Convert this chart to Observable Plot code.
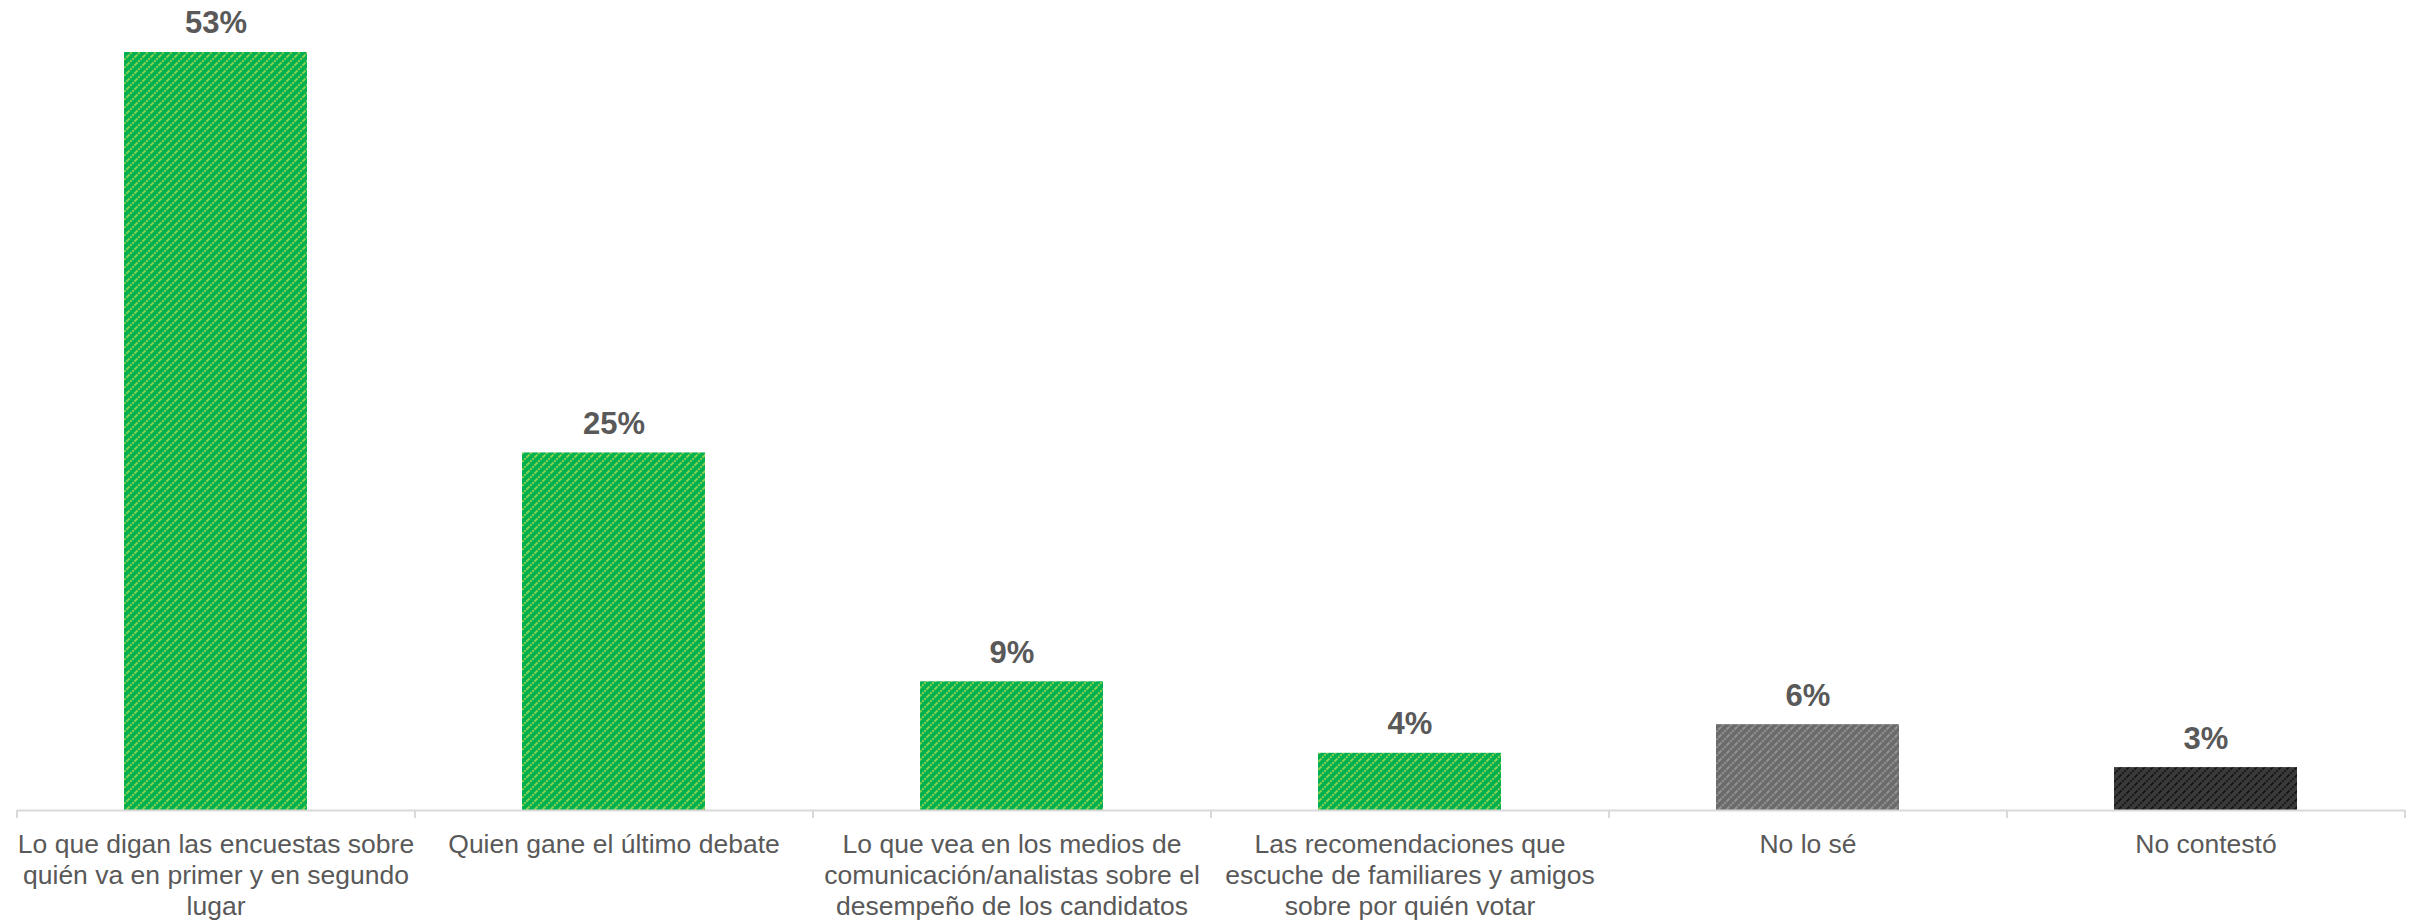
<!DOCTYPE html>
<html>
<head>
<meta charset="utf-8">
<script src="https://cdn.jsdelivr.net/npm/d3@7"></script>
<script src="https://cdn.jsdelivr.net/npm/@observablehq/plot@0.6"></script>
<style>
  html, body { margin: 0; padding: 0; background: #ffffff; }
  #chart svg { display: block; }
</style>
</head>
<body>
<div id="chart"></div>
<script>
// ---- data ----
const categories = [
  "Lo que digan las encuestas sobre quién va en primer y en segundo lugar",
  "Quien gane el último debate",
  "Lo que vea en los medios de comunicación/analistas sobre el desempeño de los candidatos",
  "Las recomendaciones que escuche de familiares y amigos sobre por quién votar",
  "No lo sé",
  "No contestó"
];
const tickLabels = [
  "Lo que digan las encuestas sobre\nquién va en primer y en segundo\nlugar",
  "Quien gane el último debate",
  "Lo que vea en los medios de\ncomunicación/analistas sobre el\ndesempeño de los candidatos",
  "Las recomendaciones que\nescuche de familiares y amigos\nsobre por quién votar",
  "No lo sé",
  "No contestó"
];
const values = [53, 25, 9, 4, 6, 3];
const groups = ["opinion", "opinion", "opinion", "opinion", "nosabe", "nocontesto"];
const valueLabels = ["53%", "25%", "9%", "4%", "6%", "3%"];

const data = categories.map((c, i) => ({
  category: c, value: values[i], group: groups[i], label: valueLabels[i]
}));
const tickMap = new Map(categories.map((c, i) => [c, tickLabels[i]]));

// ---- layout ----
const W = 2417, H = 922;
const mLeft = 17, mRight = 12, mTop = 52, mBottom = 112;
const step = (W - mLeft - mRight) / categories.length;

const plot = Plot.plot({
  width: W,
  height: H,
  marginLeft: mLeft,
  marginRight: mRight,
  marginTop: mTop,
  marginBottom: mBottom,
  style: { background: "#ffffff", fontFamily: "Arial, 'Liberation Sans', sans-serif", color: "#595959" },
  x: { domain: categories, paddingInner: 0.54, paddingOuter: 0.27, label: null },
  y: { domain: [0, 53], axis: null, label: null },
  color: {
    type: "ordinal",
    domain: ["opinion", "nosabe", "nocontesto"],
    range: ["url(#pat-green)", "url(#pat-gray)", "url(#pat-black)"]
  },
  marks: [
    Plot.barY(data, { x: "category", y: "value", fill: "group" }),
    Plot.ruleY([0], { stroke: "#d9d9d9", strokeWidth: 2 }),
    Plot.ruleX(categories, { x: d => d, y1: 0, y2: 0, insetBottom: -8, dx: -step / 2, stroke: "#d9d9d9", strokeWidth: 2 }),
    Plot.ruleX([categories[categories.length - 1]], { x: d => d, y1: 0, y2: 0, insetBottom: -8, dx: step / 2, stroke: "#d9d9d9", strokeWidth: 2 }),
    Plot.axisX({
      tickSize: 0,
      tickPadding: 21,
      fontSize: 26.5,
      lineHeight: 1.16,
      fill: "#595959",
      tickFormat: d => tickMap.get(d),
      label: null
    }),
    Plot.text(data, {
      x: "category", y: "value", text: "label", dy: -29,
      fontSize: 31, fontWeight: "bold", fill: "#595959"
    })
  ]
});

// hatch patterns
const defs = d3.select(plot).insert("defs", ":first-child");
function hatch(id, base, line) {
  const p = defs.append("pattern")
    .attr("id", id)
    .attr("patternUnits", "userSpaceOnUse")
    .attr("width", 8).attr("height", 8);
  p.append("rect").attr("width", 8).attr("height", 8).attr("fill", base);
  p.append("path")
    .attr("d", "M-1,1 L1,-1 M0,8 L8,0 M7,9 L9,7")
    .attr("stroke", line).attr("stroke-width", 2).attr("stroke-dasharray", "2,1");
}
hatch("pat-green", "#00b050", "#92d050");
hatch("pat-gray", "#6b6b6b", "#959595");
hatch("pat-black", "#3a3a3a", "#141414");

document.getElementById("chart").appendChild(plot);
</script>
</body>
</html>
